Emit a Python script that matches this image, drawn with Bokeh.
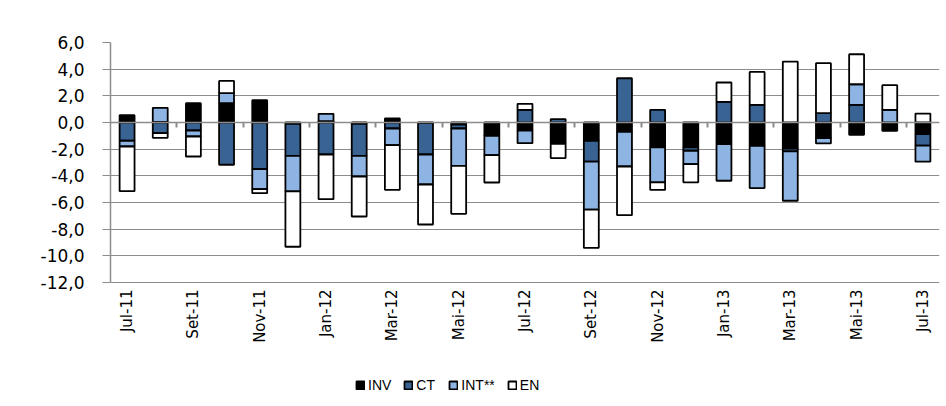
import math
from bokeh.plotting import figure
from bokeh.models import Range1d, LinearAxis, FixedTicker, Legend, LegendItem
from bokeh.core.properties import value
from bokeh.embed import file_html
from bokeh.resources import INLINE

months = ["Jul-11", "Ago-11", "Set-11", "Out-11", "Nov-11", "Dez-11", "Jan-12", "Fev-12",
          "Mar-12", "Abr-12", "Mai-12", "Jun-12", "Jul-12", "Ago-12", "Set-12", "Out-12",
          "Nov-12", "Dez-12", "Jan-13", "Fev-13", "Mar-13", "Abr-13", "Mai-13", "Jun-13", "Jul-13"]
inv = [0.55, 0.05, 1.45, 1.45, 1.67, -0.10, 0.10, -0.10, 0.30, -0.05, -0.15, -0.95, -0.60,
       -1.60, -1.37, -0.70, -1.87, -1.87, -1.62, -1.75, -1.95, -1.17, -0.92, -0.62, -0.87]
ct = [-1.37, -0.80, -0.60, -3.17, -3.50, -2.40, -2.40, -2.40, -0.45, -2.35, -0.30, -0.05, 0.95,
      0.25, -1.57, 3.32, 0.95, -0.25, 1.55, 1.32, -0.22, 0.70, 1.32, 0.0, -0.87]
intl = [-0.43, 1.05, -0.45, 0.75, -1.50, -2.67, 0.55, -1.55, -1.25, -2.25, -2.80, -1.45, -0.95,
        0.0, -3.60, -2.60, -2.62, -1.00, -2.75, -3.17, -3.70, -0.40, 1.55, 0.95, -1.20]
en = [-3.35, -0.35, -1.50, 0.92, -0.30, -4.15, -3.35, -3.00, -3.35, -3.00, -3.60, -2.05, 0.45,
      -1.07, -2.87, -3.65, -0.57, -1.37, 1.45, 2.47, 4.57, 3.75, 2.25, 1.85, 0.67]

series_names = ["INV", "CT", "INT**", "EN"]
series_values = [inv, ct, intl, en]
series_colors = ["#000000", "#386393", "#8DB4E2", "#FFFFFF"]
y_ticks = [-12, -10, -8, -6, -4, -2, 0, 2, 4, 6]
y_min, y_max = -12, 6

n = len(months)
xc = [i + 0.5 for i in range(n)]
GRID = "#8c8c8c"
FONT = "DejaVu Sans"

# frame extends below the value axis so that the month labels and legend live inside it
px_per_unit = 240 / (y_max - y_min)
frame_h = 354
p = figure(frame_width=829, frame_height=frame_h, min_border_left=110, min_border_right=1,
           min_border_top=42, min_border_bottom=0,
           x_range=Range1d(0, n), y_range=Range1d(y_max - frame_h / px_per_unit, y_max),
           x_axis_location=None, output_backend="svg", toolbar_location=None)
p.outline_line_color = None
p.xgrid.visible = False
p.xgrid.grid_line_color = None

# y axis
p.yaxis.ticker = FixedTicker(ticks=y_ticks)
p.yaxis.bounds = (y_min, y_max)
p.yaxis.major_label_overrides = {t: f"{t:.1f}".replace(".", ",") for t in y_ticks}
p.yaxis.major_label_text_font = FONT
p.yaxis.major_label_text_font_size = "17px"
p.yaxis.major_label_text_color = "#000000"
p.yaxis.axis_line_color = GRID
p.yaxis.axis_line_width = 1.5
p.yaxis.major_tick_line_color = GRID
p.yaxis.major_tick_out = 8
p.yaxis.major_tick_in = 0
p.yaxis.minor_tick_line_color = None
p.yaxis.major_label_standoff = 18
p.ygrid.ticker = FixedTicker(ticks=y_ticks)
p.ygrid.grid_line_color = GRID
p.ygrid.grid_line_width = 1.2

# stacked bars (positive and negative stacked separately)
pos = [0.0] * n
neg = [0.0] * n
items = []
for name, vals, col in zip(series_names, series_values, series_colors):
    xs, bots, tops = [], [], []
    for i, v in enumerate(vals):
        if v == 0:
            continue
        if v > 0:
            b, t = pos[i], pos[i] + v
            pos[i] += v
        else:
            b, t = neg[i] + v, neg[i]
            neg[i] += v
        xs.append(xc[i]); bots.append(b); tops.append(t)
    r = p.vbar(x=xs, bottom=bots, top=tops, width=0.45, fill_color=col,
               line_color="#000000", line_width=1.8)
    items.append(LegendItem(label=name, renderers=[r]))

# month labels (every other month) below the lowest gridline
p.text(x=xc[::2], y=[y_min] * len(xc[::2]), text=months[::2], angle=math.pi / 2,
       text_align="right", text_baseline="middle", y_offset=7,
       text_font=value(FONT), text_font_size="15px", text_color="#000000")

# category axis crossing at zero (ticks pointing down)
zero_ticks = list(range(2, n, 2))
zero_axis = LinearAxis(fixed_location=0, ticker=FixedTicker(ticks=zero_ticks))
zero_axis.axis_line_color = GRID
zero_axis.axis_line_width = 1.5
zero_axis.major_tick_line_color = GRID
zero_axis.major_tick_line_width = 2
zero_axis.major_tick_out = 0
zero_axis.major_tick_in = 5
zero_axis.minor_tick_line_color = None
zero_axis.major_label_overrides = {t: "" for t in zero_ticks}
zero_axis.major_label_standoff = 0
p.add_layout(zero_axis, "above")

legend = Legend(items=items, orientation="horizontal", location=(245, 3),
                border_line_color=None, background_fill_alpha=0,
                glyph_width=10, glyph_height=10, label_text_font="Liberation Sans",
                label_text_font_size="14px", label_text_color="#000000",
                spacing=12, padding=0, margin=0, label_standoff=3)
p.add_layout(legend, "center")

open("out.html", "w").write(file_html(p, INLINE))
